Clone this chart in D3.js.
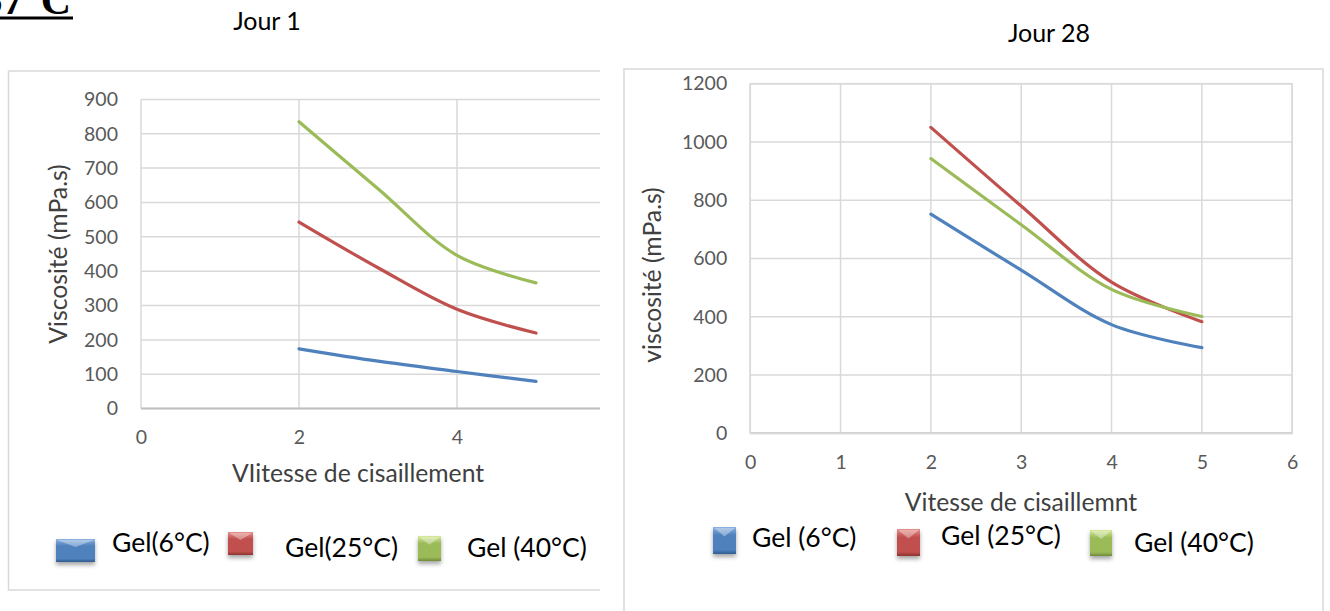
<!DOCTYPE html>
<html lang="fr">
<head>
<meta charset="utf-8">
<script src="https://cdn.jsdelivr.net/npm/d3@7"></script>
<style>
  html, body { margin: 0; padding: 0; background: #fff; }
  svg { display: block; }
  text { font-family: Lato, "Open Sans", sans-serif; }
</style>
</head>
<body>
<svg id="chart" width="1330" height="611"></svg>
<script>
// ---- Data: viscosity (mPa.s) vs shear rate, day 1 and day 28 ----
const shearJour1 = [2, 3, 4, 5];
const gel6Jour1  = [174, 138, 108, 79];
const gel25Jour1 = [543, 410, 289, 220];
const gel40Jour1 = [835, 640, 446, 366];
const namesJour1 = ["Gel(6°C)", "Gel(25°C)", "Gel (40°C)"];
const xTicksJour1 = [0, 2, 4, 6];
const yTicksJour1 = [0, 100, 200, 300, 400, 500, 600, 700, 800, 900];

const shearJour28 = [2, 3, 4, 5];
const gel6Jour28  = [752, 560, 373, 294];
const gel25Jour28 = [1050, 780, 519, 383];
const gel40Jour28 = [943, 716, 494, 401];
const namesJour28 = ["Gel (6°C)", "Gel (25°C)", "Gel (40°C)"];
const xTicksJour28 = [0, 1, 2, 3, 4, 5, 6];
const yTicksJour28 = [0, 200, 400, 600, 800, 1000, 1200];

const seriesColors = ["#4f81bd", "#c0504d", "#9bbb59"];
const seriesLight  = ["#8db3e2", "#e6908d", "#d7e99a"];
const seriesDark   = ["#2f5b8f", "#8c3330", "#6f8a3a"];

const svg = d3.select("#chart");
const defs = svg.append("defs");

// bevelled legend swatch gradients + soft shadow
seriesColors.forEach((c, i) => {
  const g = defs.append("linearGradient").attr("id", "sw" + i)
    .attr("x1", 0).attr("y1", 0).attr("x2", 0).attr("y2", 1);
  g.append("stop").attr("offset", "0%").attr("stop-color", seriesLight[i]);
  g.append("stop").attr("offset", "30%").attr("stop-color", c);
  g.append("stop").attr("offset", "85%").attr("stop-color", c);
  g.append("stop").attr("offset", "100%").attr("stop-color", seriesDark[i]);
});
const sh = defs.append("filter").attr("id", "shadow")
  .attr("x", "-30%").attr("y", "-30%").attr("width", "160%").attr("height", "170%");
sh.append("feDropShadow").attr("dx", 0).attr("dy", 3).attr("stdDeviation", 2)
  .attr("flood-color", "#000").attr("flood-opacity", 0.35);
defs.append("clipPath").attr("id", "clipLeft")
  .append("rect").attr("x", 0).attr("y", 0).attr("width", 600).attr("height", 611);

// Section heading, partly above the top edge
svg.append("text").attr("x", 71).attr("y", 14)
  .attr("text-anchor", "end")
  .style("font-family", "'Liberation Serif', 'Times New Roman', serif")
  .style("font-weight", "bold").style("font-size", "42px").attr("fill", "#000")
  .text("S7°C");
svg.append("rect").attr("x", 0).attr("y", 16.5).attr("width", 73).attr("height", 3).attr("fill", "#000");

function drawPanel(cfg) {
  const root = svg.append("g");
  if (cfg.clip) root.attr("clip-path", `url(#${cfg.clip})`);

  // chart frame
  root.append("rect")
    .attr("x", cfg.frame[0]).attr("y", cfg.frame[1])
    .attr("width", cfg.frame[2]).attr("height", cfg.frame[3])
    .attr("fill", "#fff").attr("stroke", "#d9d9d9").attr("stroke-width", 1.5);

  // day title
  svg.append("text").attr("x", cfg.titlePos[0]).attr("y", cfg.titlePos[1])
    .attr("text-anchor", "middle").style("font-size", "25px").attr("fill", "#000")
    .text(cfg.title);

  const x = d3.scaleLinear().domain(cfg.xDomain).range(cfg.xRange);
  const y = d3.scaleLinear().domain(cfg.yDomain).range(cfg.yRange);
  const [x0, x1] = cfg.xRange;
  const [yb, yt] = cfg.yRange;

  // grid
  const grid = root.append("g");
  grid.selectAll(".hg").data(cfg.yTicks).join("line")
    .attr("x1", x0).attr("x2", x1)
    .attr("y1", d => y(d)).attr("y2", d => y(d))
    .attr("stroke", "#d9d9d9").attr("stroke-width", 1.5);
  grid.selectAll(".vg").data(cfg.xTicks).join("line")
    .attr("x1", d => x(d)).attr("x2", d => x(d))
    .attr("y1", yt).attr("y2", yb)
    .attr("stroke", "#d9d9d9").attr("stroke-width", 1.5);
  // base axis line
  grid.append("line").attr("x1", x0).attr("x2", x1).attr("y1", yb).attr("y2", yb)
    .attr("stroke", "#bfbfbf").attr("stroke-width", 2);

  // axes (labels only)
  const ya = root.append("g").attr("transform", `translate(${x0},0)`)
    .call(d3.axisLeft(y).tickValues(cfg.yTicks).tickSize(0).tickPadding(23).tickFormat(d3.format("d")));
  const xa = root.append("g").attr("transform", `translate(0,${yb})`)
    .call(d3.axisBottom(x).tickValues(cfg.xTicks).tickSize(0).tickPadding(22).tickFormat(d3.format("d")));
  [ya, xa].forEach(a => {
    a.select(".domain").remove();
    a.selectAll("text").style("font-family", "Lato, sans-serif")
      .style("font-size", "19.5px").attr("fill", "#595959");
  });

  // axis titles
  root.append("text")
    .attr("transform", `translate(${cfg.yTitlePos[0]},${cfg.yTitlePos[1]}) rotate(-90)`)
    .attr("text-anchor", "middle").style("font-size", "24.7px").attr("fill", "#404040")
    .text(cfg.yTitle);
  root.append("text").attr("x", cfg.xTitlePos[0]).attr("y", cfg.xTitlePos[1])
    .attr("text-anchor", "middle").style("font-size", "24.7px").attr("fill", "#404040")
    .text(cfg.xTitle);

  // smoothed series lines
  const line = d3.line().x(d => x(d[0])).y(d => y(d[1])).curve(d3.curveCatmullRom.alpha(0.5));
  cfg.series.forEach((vals, i) => {
    root.append("path")
      .datum(cfg.xs.map((s, k) => [s, vals[k]]))
      .attr("d", line).attr("fill", "none")
      .attr("stroke", seriesColors[i]).attr("stroke-width", 3.2)
      .attr("stroke-linecap", "round").attr("stroke-linejoin", "round");
  });

  // legend
  cfg.names.forEach((name, i) => {
    const [sx, sy, sw, shh] = cfg.swatches[i];
    const lg = root.append("g");
    lg.append("rect").attr("x", sx).attr("y", sy).attr("width", sw).attr("height", shh)
      .attr("fill", `url(#sw${i})`).attr("filter", "url(#shadow)");
    lg.append("path")
      .attr("d", `M${sx + 1},${sy + 1}L${sx + sw - 1},${sy + 1}L${sx + sw / 2},${sy + shh * 0.35}Z`)
      .attr("fill", "#fff").attr("opacity", 0.35);
    lg.append("text").attr("x", cfg.labels[i][0]).attr("y", cfg.labels[i][1])
      .style("font-size", "26.5px").attr("fill", "#000").text(name);
  });
}

drawPanel({
  clip: "clipLeft",
  frame: [8.5, 71, 700, 519],
  title: "Jour 1", titlePos: [267, 30],
  xDomain: [0, 6], xRange: [141, 615],
  yDomain: [0, 900], yRange: [408.6, 99.4],
  xTicks: xTicksJour1, yTicks: yTicksJour1,
  yTitle: "Viscosité (mPa.s)", yTitlePos: [67, 254],
  xTitle: "VIitesse de cisaillement", xTitlePos: [358, 482],
  xs: shearJour1, series: [gel6Jour1, gel25Jour1, gel40Jour1],
  names: namesJour1,
  swatches: [[56, 539, 39, 23], [228, 532, 25, 23], [418, 536, 23, 25]],
  labels: [[112, 551.5], [285, 556.5], [467, 556.5]]
});

drawPanel({
  frame: [624, 69, 699, 560],
  title: "Jour 28", titlePos: [1049, 42],
  xDomain: [0, 6], xRange: [750.2, 1292.2],
  yDomain: [0, 1200], yRange: [433.3, 83.7],
  xTicks: xTicksJour28, yTicks: yTicksJour28,
  yTitle: "viscosité (mPa.s)", yTitlePos: [661, 275],
  xTitle: "Vitesse de cisaillemnt", xTitlePos: [1021, 511],
  xs: shearJour28, series: [gel6Jour28, gel25Jour28, gel40Jour28],
  names: namesJour28,
  swatches: [[713, 527, 23, 27], [897, 529, 23, 27], [1090, 530, 22, 26]],
  labels: [[752, 547], [941, 545], [1134, 552]]
});

// right chart: plot-area border
svg.append("rect").attr("x", 750.2).attr("y", 83.7).attr("width", 542).attr("height", 349.6)
  .attr("fill", "none").attr("stroke", "#d9d9d9").attr("stroke-width", 1.5);
</script>
</body>
</html>
